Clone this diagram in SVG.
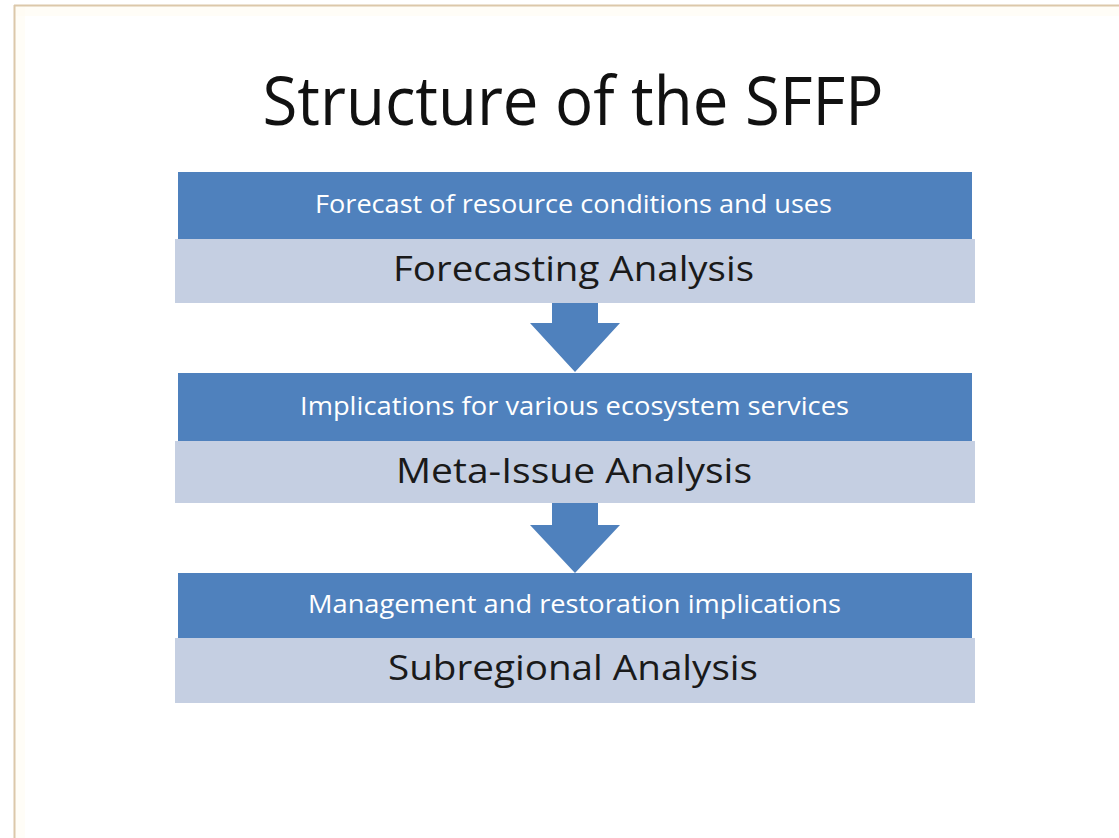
<svg xmlns="http://www.w3.org/2000/svg" width="1119" height="838" viewBox="0 0 1119 838">
  <style>
    .hdr { fill: #4f81bd; }
    .body { fill: #c5cfe2; }
    .arrow { fill: #4f81bd; }
    .title { font-family: "Open Sans", "Liberation Sans", sans-serif; font-size: 68px; fill: #111111; }
    .htext { font-family: "Open Sans", "Liberation Sans", sans-serif; font-size: 25px; fill: #ffffff; }
    .btext { font-family: "Open Sans", "Liberation Sans", sans-serif; font-size: 35px; fill: #1a1a1a; }
  </style>
  <rect x="0" y="0" width="1119" height="838" fill="#ffffff"/>
  <!-- slide frame -->
  <g id="frame">
    <rect x="15" y="6" width="1104" height="10" fill="#fffcf2" opacity="0.6"/>
    <rect x="15" y="6" width="10" height="832" fill="#fffcf2" opacity="0.6"/>
    <line x1="14.5" y1="5" x2="14.5" y2="838" stroke="#dcc8aa" stroke-width="2"/>
    <line x1="14" y1="5.5" x2="1119" y2="5.5" stroke="#dcc8aa" stroke-width="2"/>
  </g>
  <text id="title" class="title" x="573" y="125" text-anchor="middle" textLength="621" lengthAdjust="spacingAndGlyphs">Structure of the SFFP</text>

  <g id="stage1">
    <rect class="body" x="175" y="239" width="800" height="64"/>
    <rect class="hdr" x="178" y="172" width="794" height="67"/>
    <text class="htext" x="573.5" y="213" text-anchor="middle" textLength="517" lengthAdjust="spacingAndGlyphs">Forecast of resource conditions and uses</text>
    <text class="btext" x="573.5" y="281" text-anchor="middle" textLength="361" lengthAdjust="spacingAndGlyphs">Forecasting Analysis</text>
  </g>

  <g id="stage2">
    <rect class="body" x="175" y="441" width="800" height="62"/>
    <rect class="hdr" x="178" y="373" width="794" height="68"/>
    <text class="htext" x="574.5" y="415" text-anchor="middle" textLength="549" lengthAdjust="spacingAndGlyphs">Implications for various ecosystem services</text>
    <text class="btext" x="574" y="483" text-anchor="middle" textLength="356" lengthAdjust="spacingAndGlyphs">Meta-Issue Analysis</text>
  </g>

  <g id="stage3">
    <rect class="body" x="175" y="638" width="800" height="65"/>
    <rect class="hdr" x="178" y="573" width="794" height="65"/>
    <text class="htext" x="574.5" y="613" text-anchor="middle" textLength="533" lengthAdjust="spacingAndGlyphs">Management and restoration implications</text>
    <text class="btext" x="573" y="680" text-anchor="middle" textLength="370" lengthAdjust="spacingAndGlyphs">Subregional Analysis</text>
  </g>

  <g id="connectors">
    <polygon class="arrow" points="552,303 598,303 598,323 620,323 575,372 530,323 552,323"/>
    <polygon class="arrow" points="552,503 598,503 598,525 620,525 575,573 530,525 552,525"/>
  </g>
</svg>
